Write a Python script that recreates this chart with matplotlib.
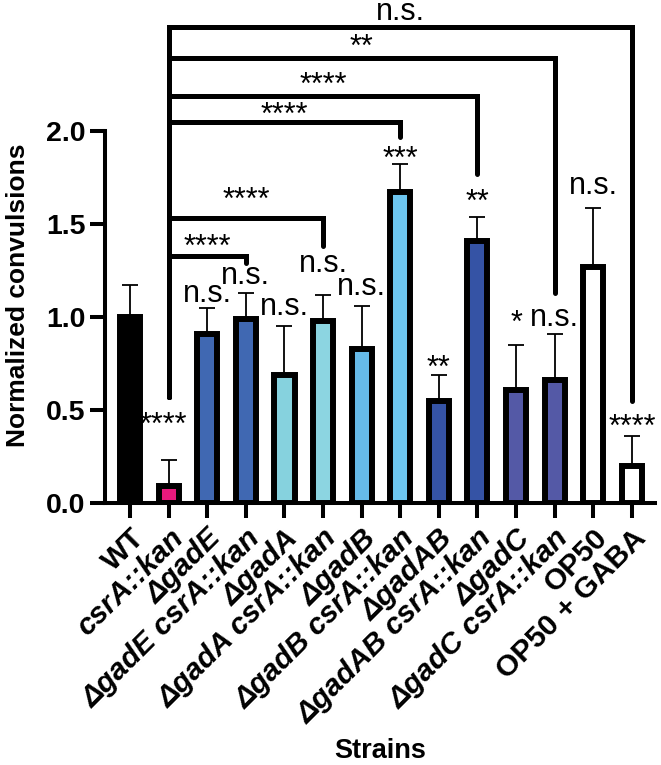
import matplotlib.pyplot as plt
import numpy as np

plt.rcParams['font.family'] = ['Liberation Sans', 'DejaVu Sans']

# data
strains = ['WT', 'csrA::kan', 'ΔgadE', 'ΔgadE csrA::kan', 'ΔgadA', 'ΔgadA csrA::kan',
           'ΔgadB', 'ΔgadB csrA::kan', 'ΔgadAB', 'ΔgadAB csrA::kan', 'ΔgadC',
           'ΔgadC csrA::kan', 'OP50', 'OP50 + GABA']
italic = [False] + [True] * 11 + [False, False]
means = [1.00, 0.09, 0.91, 0.99, 0.69, 0.98, 0.83, 1.67, 0.55, 1.41, 0.61, 0.66, 1.27, 0.20]
upper = [1.17, 0.23, 1.05, 1.13, 0.95, 1.12, 1.06, 1.82, 0.69, 1.54, 0.85, 0.91, 1.585, 0.36]
colors = ['#000000', '#E8197C', '#4068B2', '#4068B2', '#86D2DE', '#8CD5E1', '#66BAE8',
          '#6DC6F0', '#3553A5', '#3553A5', '#5459A6', '#5459A6', '#FFFFFF', '#FFFFFF']

# significance above each bar (label, baseline height)
bar_sig = ['', '****', 'n.s.', 'n.s.', 'n.s.', 'n.s.', 'n.s.', '***', '**', '**', '*',
           'n.s.', 'n.s.', '****']
bar_sig_y = [0, 0.37, 1.08, 1.18, 1.01, 1.24, 1.12, 1.80, 0.68, 1.57, 0.92, 0.95, 1.66, 0.36]
bar_sig_x = [0, 0.85, 2, 3, 4, 5, 6, 7, 8, 9, 10, 11, 12, 13]

# brackets against csrA::kan: (right bar, bracket height, right leg end, label, label baseline)
br_right = [3, 5, 7, 9, 11, 13]
br_height = [1.33, 1.53, 2.05, 2.19, 2.39, 2.56]
br_end = [1.29, 1.38, 1.97, 1.77, 1.13, 0.55]
br_label = ['****', '****', '****', '****', '**', 'n.s.']
br_label_y = [1.33, 1.58, 2.04, 2.20, 2.405, 2.595]
br_left_end = 0.57

fig = plt.figure(figsize=(6.61, 7.65), dpi=100)
ax = fig.add_axes([105 / 661, 1 - 503 / 765, 550 / 661, 503 / 765])

x = np.arange(len(strains))
ax.bar(x, means, width=0.52, color=colors, edgecolor='black', linewidth=4.3, zorder=3)
yerr = [np.zeros(len(means)), np.array(upper) - np.array(means)]
ax.errorbar(x, means, yerr=yerr, fmt='none', ecolor='black', elinewidth=1.3,
            capsize=5.5, capthick=1.3, zorder=2)

for xi, lab, yi in zip(bar_sig_x, bar_sig, bar_sig_y):
    if lab:
        ax.text(xi, yi, lab, ha='center', va='baseline', fontsize=22)

for r, h, e, lab, ly in zip(br_right, br_height, br_end, br_label, br_label_y):
    ax.plot([1, 1, r, r], [br_left_end, h, h, e], color='black', lw=3.6,
            solid_joinstyle='miter', solid_capstyle='round', zorder=4, clip_on=False)
    ax.text((1 + r) / 2, ly, lab, ha='center', va='baseline', fontsize=22)

ax.set_xlim(-0.65, 13.6)
ax.set_ylim(0, 503 / 186)
ax.set_yticks([0, 0.5, 1.0, 1.5, 2.0])
ax.set_yticklabels(['0.0', '0.5', '1.0', '1.5', '2.0'], fontweight='bold', fontsize=20.5)
ax.set_xticks(x)
ax.set_xticklabels(strains, rotation=45, ha='right', rotation_mode='anchor',
                   fontweight='bold', fontsize=21.5)
for t, it in zip(ax.get_xticklabels(), italic):
    if it:
        t.set_fontstyle('italic')

for s in ['top', 'right']:
    ax.spines[s].set_visible(False)
ax.spines['left'].set_bounds(0, 2)
ax.spines['left'].set_linewidth(2.9)
ax.spines['bottom'].set_linewidth(2.9)
ax.tick_params(axis='both', direction='out', length=11, width=2.9)
ax.tick_params(axis='x', pad=4)
ax.tick_params(axis='y', pad=3)

ax.set_ylabel('Normalized convulsions', fontweight='bold', fontsize=19)
ax.yaxis.set_label_coords(-0.137, 0.414)
ax.set_xlabel('Strains', fontweight='bold', fontsize=19.5)
ax.xaxis.set_label_coords(0.5, -0.467)

fig.savefig('out.png', dpi=100)
